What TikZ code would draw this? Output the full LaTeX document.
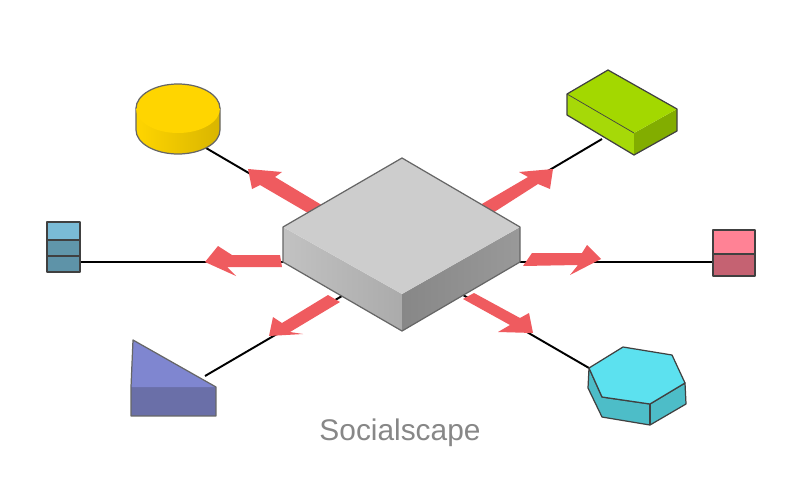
\documentclass[tikz,border=0pt]{standalone}
\usepackage{fontspec}
\setmainfont{Liberation Sans}

\definecolor{hubtop}{HTML}{CDCDCD}
\definecolor{flow}{HTML}{EF5B5F}
\definecolor{goldtop}{HTML}{FFD500}
\definecolor{limetop}{HTML}{A3D800}
\definecolor{cyantop}{HTML}{5CE1EF}
\definecolor{cyanside}{HTML}{4DBDC8}

\tikzset{
	edge/.style={draw=black!60, line width=0.7pt, line join=round},
	darkedge/.style={draw=black!75, line width=0.7pt, line join=round},
	link/.style={black, line width=1.1pt},
	flowarrow/.style={fill=flow, draw=none},
	caption/.style={text=black!47, font=\fontsize{17}{20}\selectfont},
}

\begin{document}
\begin{tikzpicture}[x=0.02cm, y=-0.02cm]
	\useasboundingbox (0,0) rectangle (800,500);
	
	% Define the ends of the links
	\coordinate (hubNW) at (312,210);
	\coordinate (hubNE) at (487,207);
	\coordinate (hubW) at (283,262);
	\coordinate (hubE) at (520,262);
	\coordinate (hubSW) at (342,296);
	\coordinate (hubSE) at (463,295);
	\coordinate (disc) at (206,148);
	\coordinate (brick) at (602,139);
	\coordinate (stack) at (80,262);
	\coordinate (block) at (713,262);
	\coordinate (wedge) at (205,376);
	\coordinate (prism) at (589,368);
	
	% Draw the links
	\foreach \from/\to in {hubNW/disc, hubNE/brick, hubW/stack, hubE/block, hubSW/wedge, hubSE/prism} {
			\draw[link] (\from) -- (\to);
		}
	
	% Draw the red arrows
	\fill[flowarrow] (330,210) -- (275,177) -- (282,172) -- (248,169) -- (252,189) -- (260,185) -- (320,220) -- cycle;
	\fill[flowarrow] (475,208) -- (528,177) -- (519,172) -- (553,169) -- (550,189) -- (538,184) -- (488,216) -- cycle;
	\fill[flowarrow] (280,255) -- (232,255) -- (218,246) -- (205,262) -- (236,276) -- (227,267) -- (282,267) -- cycle;
	\fill[flowarrow] (532,253) -- (582,253) -- (587,245) -- (601,259) -- (570,275) -- (578,265) -- (523,266) -- cycle;
	\fill[flowarrow] (328,295) -- (282,323) -- (273,317) -- (269,336) -- (303,334) -- (290,332) -- (340,302) -- cycle;
	\fill[flowarrow] (463,299) -- (510,325) -- (498,332) -- (533,333) -- (529,313) -- (520,318) -- (474,293) -- cycle;
	
	% Draw the central block
	\shade[left color=black!24, right color=black!33] (283,227) -- (402,294) -- (402,331) -- (283,262) -- cycle;
	\shade[left color=black!47, right color=black!40] (402,294) -- (520,227) -- (520,262) -- (402,331) -- cycle;
	\fill[hubtop] (402,158) -- (520,227) -- (402,294) -- (283,227) -- cycle;
	\draw[edge] (402,158) -- (520,227) -- (520,262) -- (402,331) -- (283,262) -- (283,227) -- cycle;
	
	% Draw the disc
	\draw[edge, left color=goldtop, right color=goldtop!85!black] (136,108) -- (136,130) arc[start angle=180, end angle=0, x radius=42, y radius=24] -- (220,108) -- cycle;
	\fill[goldtop] (178,108.5) ellipse[x radius=42, y radius=24.5];
	\draw[edge] (136,108.5) arc[start angle=180, end angle=360, x radius=42, y radius=24.5];
	
	% Draw the brick
	\fill[limetop!97!white] (567,94) -- (634,133) -- (634,155) -- (567,115) -- cycle;
	\fill[limetop!80!black] (634,133) -- (677,109) -- (677,131) -- (634,155) -- cycle;
	\fill[limetop] (608,70) -- (677,109) -- (634,133) -- (567,94) -- cycle;
	\draw[darkedge] (608,70) -- (677,109) -- (677,131) -- (634,155) -- (567,115) -- (567,94) -- cycle;
	\draw[darkedge, line width=0.4pt] (567,94) -- (634,133);
	
	% Draw the stack on the left
	\draw[darkedge, fill={rgb,255:red,122;green,187;blue,214}] (47,222) rectangle (80,240);
	\draw[darkedge, fill={rgb,255:red,96;green,150;blue,170}] (47,240) rectangle (80,256);
	\draw[darkedge, fill={rgb,255:red,94;green,147;blue,168}] (47,256) rectangle (80,272);
	
	% Draw the block on the right
	\draw[darkedge, fill={rgb,255:red,255;green,130;blue,149}] (713,230) rectangle (755,254);
	\draw[darkedge, fill={rgb,255:red,197;green,98;blue,114}] (713,254) rectangle (755,276);
	
	% Draw the wedge
	\fill[fill={rgb,255:red,106;green,111;blue,168}] (131,387) -- (216,387) -- (216,416) -- (131,416) -- cycle;
	\fill[fill={rgb,255:red,127;green,134;blue,208}] (133,340) -- (216,387) -- (131,387) -- cycle;
	\draw[edge] (133,340) -- (216,387) -- (216,416) -- (131,416) -- (131,387) -- cycle;
	
	% Draw the prism
	\draw[darkedge, fill=cyanside] (589,368) -- (588,388) -- (602,417) -- (650,425) -- (686,404) -- (685,383) -- (650,404) -- (602,397) -- cycle;
	\draw[darkedge] (650,404) -- (650,425);
	\draw[darkedge, fill=cyantop] (589,368) -- (623,347) -- (672,355) -- (685,383) -- (650,404) -- (602,397) -- cycle;
	
	% Add the caption
	\node[caption] (title) at (400,433) {Socialscape};
	
\end{tikzpicture}
\end{document}
